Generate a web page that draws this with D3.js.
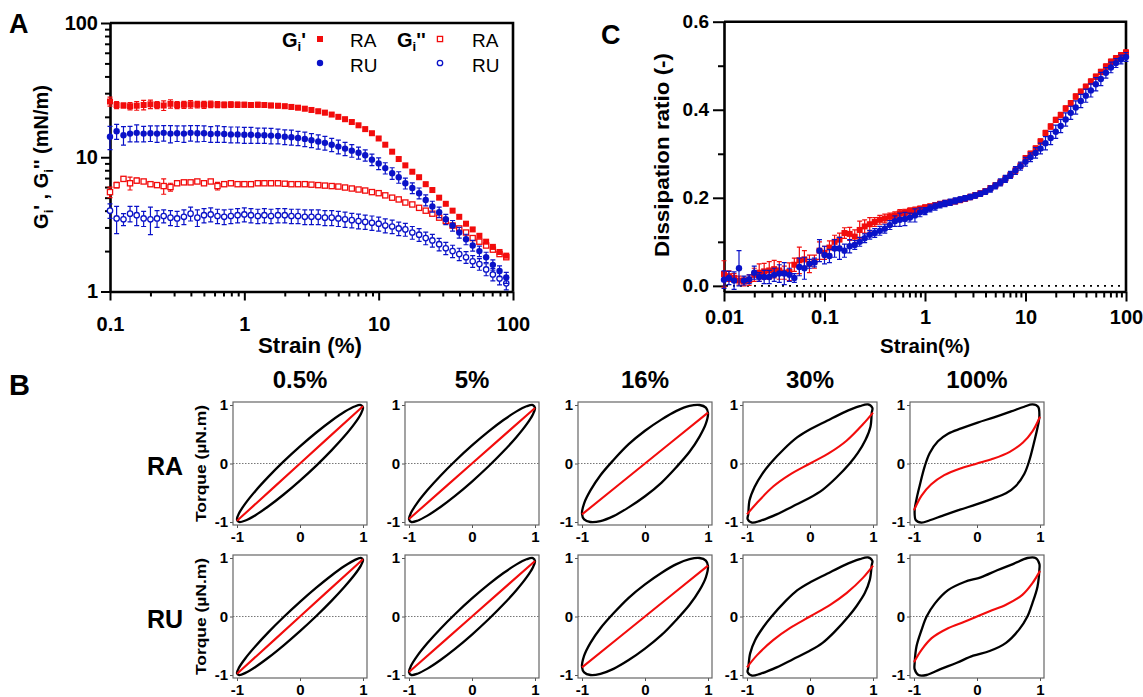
<!DOCTYPE html>
<html>
<head>
<meta charset="utf-8">
<script src="https://cdn.jsdelivr.net/npm/d3@7"></script>
<style>
  body { margin: 0; background: #fff; }
  text { font-family: Arial, "Liberation Sans", Helvetica, sans-serif; font-weight: bold; fill: #000; }
</style>
</head>
<body>
<svg width="1143" height="697"></svg>
<script>
// ---- panel A : amplitude sweep, Gi' and Gi'' ----
var strainA = [0.1,0.112,0.126,0.141,0.158,0.178,0.2,0.224,0.251,0.282,0.316,0.355,0.398,0.447,0.501,0.562,0.631,0.708,0.794,0.891,
  1,1.12,1.26,1.41,1.58,1.78,2,2.24,2.51,2.82,3.16,3.55,3.98,4.47,5.01,5.62,6.31,7.08,7.94,8.91,
  10,11.2,12.6,14.1,15.8,17.8,20,22.4,25.1,28.2,31.6,35.5,39.8,44.7,50.1,56.2,63.1,70.8,79.4,89.1];

var gpRA = [26,24.5,24.3,24,24.2,24.5,24.8,24.5,24.3,25, 24.5,24.6,24.8,24.7,24.6,24.8,24.7,24.6,24.7,24.6,
  24.6,24.5,24.6,24.5,24.3,24.2,24,23.7,23.4,23, 22.5,22,21.5,20.8,20,19.2,18.3,17.3,16.2,15.1,
  13.8,12.4,11,9.7,8.7,7.8,7.1,6.3,5.7,5.0, 4.5,4.0,3.6,3.2,2.9,2.6,2.35,2.15,1.97,1.85];
var gpRAerr = [2,1.5,1,1.5,1.8,2,1.8,1.5,2,1.8, 1.5,1.5,1.6,1.4,1.5,1.4,1.3,1.2,1.2,1.1,
  1,1,1,0.9,0.9,0.9,0.8,0.8,0.8,0.8, 0.7,0.7,0.7,0.6,0.6,0.6,0.5,0.5,0.5,0.4,
  0.4,0.35,0.3,0.3,0.25,0.2,0.2,0.2,0.15,0.15, 0.12,0.1,0.1,0.1,0.08,0.08,0.07,0.07,0.06,0.06];

var gpRU = [14.2,15.6,14.6,15,15.2,15,15.1,15,15.2,15, 15.1,15,15.2,15.1,15.1,14.9,15,14.9,14.8,14.8,
  14.7,14.7,14.6,14.6,14.5,14.4,14.2,14.1,13.9,13.7, 13.4,13.1,12.8,12.4,12,11.6,11.2,10.8,10.35,9.6,
  9.0,8.3,7.6,7.1,6.4,5.9,5.4,4.8,4.3,3.9, 3.45,3.1,2.75,2.45,2.2,2.0,1.8,1.58,1.42,1.27];
var gpRUerr = [2.8,2,2.3,2,2.2,2,2,2.1,2,2.2, 2,2.1,2,2.1,2,2,2.1,2,2,2,
  2,2,1.9,1.9,1.9,1.8,1.8,1.8,1.7,1.7, 1.6,1.6,1.5,1.4,1.4,1.3,1.2,1.1,1.0,0.95,
  0.9,0.8,0.75,0.7,0.6,0.55,0.5,0.45,0.4,0.35, 0.3,0.28,0.25,0.22,0.2,0.18,0.16,0.14,0.13,0.12];

var gppRA = [5.5,6.2,6.9,6.4,6.7,6.6,6.3,6.2,6.1,6.0, 6.4,6.5,6.5,6.6,6.4,6.6,6.1,6.3,6.4,6.3,
  6.3,6.3,6.4,6.4,6.4,6.4,6.35,6.3,6.3,6.3, 6.25,6.2,6.15,6.1,6.05,5.95,5.85,5.75,5.65,5.5,
  5.4,5.2,5.0,4.85,4.6,4.45,4.2,4.0,3.8,3.55, 3.35,3.1,2.95,2.75,2.5,2.35,2.2,2.05,1.9,1.8];
var gppRAerr = [0.5,0.3,0.2,0.7,0.3,0.2,0.2,0.2,0.8,0.4, 0.2,0.2,0.2,0.2,0.2,0.2,0.4,0.2,0.2,0.15,
  0.15,0.15,0.15,0.15,0.15,0.15,0.15,0.15,0.15,0.15, 0.15,0.15,0.15,0.15,0.15,0.14,0.14,0.14,0.13,0.13,
  0.13,0.12,0.12,0.12,0.11,0.11,0.1,0.1,0.1,0.09, 0.09,0.08,0.08,0.08,0.07,0.07,0.07,0.06,0.06,0.06];

var gppRU = [4.0,3.5,3.45,3.8,3.7,3.5,3.45,3.5,3.65,3.55, 3.5,3.6,3.8,3.55,3.7,3.75,3.65,3.6,3.65,3.7,
  3.75,3.7,3.65,3.7,3.65,3.7,3.7,3.65,3.65,3.6, 3.6,3.6,3.55,3.55,3.5,3.45,3.4,3.35,3.3,3.25,
  3.2,3.1,3.05,2.95,2.9,2.75,2.65,2.5,2.4,2.25, 2.1,2.0,1.9,1.8,1.68,1.6,1.46,1.34,1.25,1.15];
var gppRUerr = [0.5,0.8,0.35,0.5,0.6,0.45,0.8,0.5,0.4,0.45, 0.45,0.45,0.45,0.5,0.45,0.45,0.45,0.45,0.45,0.45,
  0.45,0.45,0.45,0.45,0.45,0.45,0.45,0.45,0.45,0.45, 0.45,0.45,0.45,0.45,0.45,0.45,0.42,0.42,0.4,0.4,
  0.38,0.37,0.35,0.34,0.32,0.3,0.29,0.27,0.26,0.24, 0.22,0.21,0.2,0.18,0.17,0.16,0.15,0.14,0.13,0.12];

var ticksAx = [0.1, 1, 10, 100];
var ticksAy = [1, 10, 100];

// ---- panel C : dissipation ratio ----
var strainC = [0.01,0.0112,0.0126,0.0141,0.0158,0.0178,0.02,0.0224,0.0251,0.0282,0.0316,0.0355,0.0398,0.0447,0.0501,0.0562,0.0631,0.0708,0.0794,0.0891,
  0.1,0.112,0.126,0.141,0.158,0.178,0.2,0.224,0.251,0.282,0.316,0.355,0.398,0.447,0.501,0.562,0.631,0.708,0.794,0.891,
  1,1.12,1.26,1.41,1.58,1.78,2,2.24,2.51,2.82,3.16,3.55,3.98,4.47,5.01,5.62,6.31,7.08,7.94,8.91,
  10,11.2,12.6,14.1,15.8,17.8,20,22.4,25.1,28.2,31.6,35.5,39.8,44.7,50.1,56.2,63.1,70.8,79.4,89.1,100];

var dissRA = [0.027,0.022,0.018,0.012,0.01,0.013,0.025,0.03,0.033,0.035,0.038,0.035,0.03,0.032,0.048,0.058,0.06,0.05,0.055,0.08,
  0.075,0.087,0.1,0.105,0.12,0.118,0.112,0.127,0.135,0.14,0.145,0.15,0.153,0.157,0.16,0.165,0.167,0.17,0.172,0.175,
  0.178,0.18,0.183,0.186,0.188,0.19,0.192,0.195,0.198,0.202,0.206,0.21,0.215,0.222,0.228,0.235,0.244,0.252,0.262,0.273,
  0.29,0.3,0.312,0.328,0.347,0.362,0.377,0.388,0.403,0.415,0.43,0.441,0.452,0.464,0.475,0.486,0.498,0.509,0.517,0.524,0.53];
var dissRAerr = [0.03,0.012,0.01,0.01,0.01,0.012,0.015,0.02,0.018,0.02,0.02,0.02,0.015,0.02,0.015,0.03,0.02,0.02,0.015,0.02,
  0.015,0.015,0.015,0.015,0.012,0.015,0.015,0.02,0.015,0.015,0.01,0.01,0.01,0.008,0.008,0.008,0.007,0.007,0.007,0.006,
  0.006,0.006,0.006,0.006,0.006,0.006,0.006,0.006,0.006,0.006,0.006,0.006,0.006,0.006,0.006,0.006,0.006,0.006,0.006,0.006,
  0.006,0.006,0.006,0.006,0.006,0.006,0.006,0.006,0.006,0.006,0.006,0.006,0.006,0.006,0.006,0.006,0.006,0.006,0.006,0.006,0.006];

var dissRU = [0.014,0.018,0.012,0.04,0.012,0.015,0.03,0.02,0.02,0.02,0.025,0.028,0.028,0.025,0.018,0.043,0.04,0.05,0.053,0.08,
  0.07,0.068,0.085,0.085,0.08,0.09,0.093,0.1,0.108,0.116,0.12,0.125,0.13,0.138,0.147,0.15,0.152,0.155,0.16,0.167,
  0.17,0.176,0.18,0.184,0.187,0.19,0.193,0.196,0.199,0.202,0.205,0.209,0.214,0.22,0.227,0.235,0.243,0.252,0.262,0.272,
  0.282,0.292,0.302,0.312,0.324,0.336,0.35,0.363,0.378,0.393,0.405,0.42,0.432,0.444,0.458,0.47,0.484,0.496,0.506,0.514,0.52];
var dissRUerr = [0.02,0.015,0.02,0.04,0.01,0.01,0.015,0.01,0.015,0.015,0.015,0.02,0.025,0.015,0.01,0.02,0.025,0.01,0.01,0.025,
  0.02,0.015,0.02,0.025,0.015,0.015,0.01,0.01,0.01,0.01,0.01,0.01,0.01,0.01,0.012,0.015,0.015,0.01,0.015,0.01,
  0.008,0.008,0.008,0.007,0.007,0.007,0.007,0.006,0.006,0.006,0.006,0.006,0.006,0.007,0.007,0.008,0.008,0.008,0.009,0.009,
  0.01,0.01,0.012,0.012,0.015,0.015,0.015,0.015,0.015,0.015,0.015,0.015,0.015,0.015,0.015,0.015,0.012,0.012,0.01,0.01,0.01];

var ticksCx = [0.01, 0.1, 1, 10, 100];
var ticksCy = [0, 0.2, 0.4, 0.6];
var minorCy = [0.1, 0.3, 0.5];

// ---- panel B : Lissajous loops (normalised strain, torque) ----
var amplitudes = ['0.5%', '5%', '16%', '30%', '100%'];
var samples = ['RA', 'RU'];
var ticksB = [-1, 0, 1];

// upper branch of each loop, from bottom-left tip to top-right tip;
// the loop is point-symmetric so the lower branch is the mirrored copy
var loopRA = [
  [[-1,-0.956],[-0.966,-0.848],[-0.866,-0.682],[-0.707,-0.469],[-0.5,-0.225],[-0.259,0.035],[0,0.292],[0.259,0.53],[0.5,0.731],[0.707,0.883],[0.866,0.974],[0.966,0.999]],
  [[-1,-0.951],[-0.966,-0.839],[-0.866,-0.669],[-0.707,-0.454],[-0.5,-0.208],[-0.259,0.052],[0,0.309],[0.259,0.545],[0.5,0.743],[0.707,0.891],[0.866,0.978],[0.966,0.999]],
  [[-1,-0.86],[-0.966,-0.68],[-0.866,-0.46],[-0.707,-0.2],[-0.5,0.06],[-0.259,0.33],[0,0.56],[0.259,0.75],[0.5,0.9],[0.707,0.985],[0.866,1.0],[0.966,0.955]],
  [[-0.98,-0.87],[-0.96,-0.63],[-0.88,-0.4],[-0.76,-0.18],[-0.63,0],[-0.42,0.24],[-0.2,0.45],[0.01,0.59],[0.27,0.73],[0.53,0.87],[0.79,0.98],[0.92,1.01],[0.99,0.95]],
  [[-0.99,-0.81],[-0.96,-0.61],[-0.91,-0.38],[-0.83,-0.05],[-0.75,0.18],[-0.62,0.38],[-0.46,0.51],[-0.25,0.6],[0.01,0.7],[0.27,0.79],[0.54,0.89],[0.75,0.97],[0.88,1.01],[0.97,0.97]]
];
var loopRU = [
  [[-1,-0.968],[-0.966,-0.87],[-0.866,-0.713],[-0.707,-0.508],[-0.5,-0.267],[-0.259,-0.009],[0,0.25],[0.259,0.492],[0.5,0.701],[0.707,0.862],[0.866,0.964],[0.966,1.0]],
  [[-1,-0.951],[-0.966,-0.839],[-0.866,-0.669],[-0.707,-0.454],[-0.5,-0.208],[-0.259,0.052],[0,0.309],[0.259,0.545],[0.5,0.743],[0.707,0.891],[0.866,0.978],[0.966,0.999]],
  [[-1,-0.86],[-0.966,-0.67],[-0.866,-0.45],[-0.707,-0.2],[-0.5,0.055],[-0.259,0.32],[0,0.55],[0.259,0.745],[0.5,0.895],[0.707,0.98],[0.866,1.0],[0.966,0.955]],
  [[-0.98,-0.88],[-0.95,-0.63],[-0.87,-0.4],[-0.74,-0.18],[-0.61,0],[-0.4,0.25],[-0.2,0.45],[0.01,0.59],[0.27,0.73],[0.53,0.87],[0.79,0.98],[0.92,1.01],[0.99,0.95]],
  [[-0.99,-0.8],[-0.96,-0.51],[-0.88,-0.23],[-0.8,0],[-0.67,0.22],[-0.46,0.45],[-0.2,0.59],[0.06,0.67],[0.32,0.79],[0.58,0.9],[0.8,1.0],[0.93,1.0],[0.99,0.9]]
];
// elastic stress (red)
var elasticRA = [
  [[-1,-0.98],[0,0],[1,0.98]],
  [[-1,-0.95],[0,0],[1,0.95]],
  [[-1,-0.87],[0,0],[1,0.87]],
  [[-1,-0.87],[-0.84,-0.67],[-0.58,-0.39],[-0.32,-0.19],[0,0],[0.32,0.19],[0.58,0.39],[0.84,0.67],[1,0.87]],
  [[-1,-0.8],[-0.88,-0.55],[-0.73,-0.36],[-0.52,-0.2],[-0.25,-0.08],[0,0],[0.25,0.08],[0.52,0.2],[0.73,0.36],[0.88,0.55],[1,0.8]]
];
var elasticRU = [
  [[-1,-0.98],[0,0],[1,0.98]],
  [[-1,-0.95],[0,0],[1,0.95]],
  [[-1,-0.87],[0,0],[1,0.87]],
  [[-1,-0.87],[-0.84,-0.66],[-0.58,-0.4],[-0.32,-0.2],[0,0],[0.32,0.2],[0.58,0.4],[0.84,0.66],[1,0.87]],
  [[-1,-0.78],[-0.88,-0.57],[-0.72,-0.37],[-0.46,-0.2],[-0.2,-0.09],[0,0],[0.2,0.09],[0.46,0.2],[0.72,0.37],[0.88,0.57],[1,0.78]]
];

var RED = '#f20c0c', BLUE = '#0a12c8';
var svg = d3.select('svg');

function styleAxis(g, w, fs) {
  g.attr('font-size', fs).attr('font-family', null);
  g.select('.domain').attr('stroke', '#000').attr('stroke-width', w);
  g.selectAll('.tick line').attr('stroke', '#000').attr('stroke-width', 2);
}

function minorAxis(axis, g) {
  g.call(axis.tickFormat(''));
  g.select('.domain').remove();
  g.selectAll('.tick line').attr('stroke', '#000').attr('stroke-width', 2);
}

function drawSeries(g, x, y, xs, vs, es, color, shape, open, cap) {
  var pts = xs.map(function(s, i) { return { s: s, v: vs[i], e: es[i] }; });
  g.append('g').attr('stroke', color).attr('stroke-width', 1.2).attr('fill', 'none')
    .selectAll('path').data(pts).enter().append('path')
    .attr('d', function(d) {
      var px = x(d.s), lo = y(d.v - d.e), hi = y(d.v + d.e);
      return 'M' + (px - cap) + ',' + hi + 'H' + (px + cap) + 'M' + px + ',' + hi + 'V' + lo +
             'M' + (px - cap) + ',' + lo + 'H' + (px + cap);
    });
  var mg = g.append('g');
  if (shape === 'square') {
    var s = open ? 5.2 : 6;
    mg.selectAll('rect').data(pts).enter().append('rect')
      .attr('x', function(d) { return x(d.s) - s / 2; })
      .attr('y', function(d) { return y(d.v) - s / 2; })
      .attr('width', s).attr('height', s)
      .attr('fill', open ? '#fff' : color)
      .attr('stroke', open ? color : 'none').attr('stroke-width', 1.3);
  } else {
    mg.selectAll('circle').data(pts).enter().append('circle')
      .attr('cx', function(d) { return x(d.s); })
      .attr('cy', function(d) { return y(d.v); })
      .attr('r', open ? 2.7 : 3.2)
      .attr('fill', open ? '#fff' : color)
      .attr('stroke', open ? color : 'none').attr('stroke-width', 1.3);
  }
}

// ================= Panel A =================
var xA = d3.scaleLog().domain([0.1, 100]).range([110, 513]);
var yA = d3.scaleLog().domain([1, 100]).range([291.5, 23]);
var gA = svg.append('g');

minorAxis(d3.axisLeft(yA).tickValues(yA.ticks().filter(function(d) { return ticksAy.indexOf(d) < 0; })).tickSize(5),
  gA.append('g').attr('transform', 'translate(110,0)'));
minorAxis(d3.axisBottom(xA).tickValues(xA.ticks().filter(function(d) { return ticksAx.indexOf(d) < 0; })).tickSize(5),
  gA.append('g').attr('transform', 'translate(0,291.5)'));

var axAy = gA.append('g').attr('transform', 'translate(110,0)')
  .call(d3.axisLeft(yA).tickValues(ticksAy).tickSize(9).tickSizeOuter(0).tickPadding(3).tickFormat(d3.format('~g')));
styleAxis(axAy, 2.6, 20);
var axAx = gA.append('g').attr('transform', 'translate(0,291.5)')
  .call(d3.axisBottom(xA).tickValues(ticksAx).tickSize(9).tickSizeOuter(0).tickPadding(16).tickFormat(d3.format('~g')));
styleAxis(axAx, 2.6, 20);
gA.append('path').attr('d', 'M110,23H513V291.5').attr('fill', 'none').attr('stroke', '#000').attr('stroke-width', 2.6);

drawSeries(gA, xA, yA, strainA, gppRU, gppRUerr, BLUE, 'circle', true, 2.5);
drawSeries(gA, xA, yA, strainA, gppRA, gppRAerr, RED, 'square', true, 2.5);
drawSeries(gA, xA, yA, strainA, gpRU, gpRUerr, BLUE, 'circle', false, 2.5);
drawSeries(gA, xA, yA, strainA, gpRA, gpRAerr, RED, 'square', false, 2.5);

// legend
var lg = gA.append('g');
var t1 = lg.append('text').attr('x', 282).attr('y', 47).attr('font-size', 20);
t1.append('tspan').text('G');
t1.append('tspan').attr('dy', 4).attr('font-size', 13).text('i');
t1.append('tspan').attr('dy', -4).text('\'');
var t2 = lg.append('text').attr('x', 397).attr('y', 47).attr('font-size', 20);
t2.append('tspan').text('G');
t2.append('tspan').attr('dy', 4).attr('font-size', 13).text('i');
t2.append('tspan').attr('dy', -4).text('\'\'');
lg.append('rect').attr('x', 317).attr('y', 36).attr('width', 6).attr('height', 6).attr('fill', RED);
lg.append('rect').attr('x', 437.4).attr('y', 36.4).attr('width', 5.2).attr('height', 5.2).attr('fill', '#fff').attr('stroke', RED).attr('stroke-width', 1.3);
lg.append('circle').attr('cx', 320).attr('cy', 63).attr('r', 3.2).attr('fill', BLUE);
lg.append('circle').attr('cx', 440).attr('cy', 63).attr('r', 2.7).attr('fill', '#fff').attr('stroke', BLUE).attr('stroke-width', 1.3);
[[350, 47, 'RA'], [350, 72, 'RU'], [472, 47, 'RA'], [472, 72, 'RU']].forEach(function(d) {
  lg.append('text').attr('x', d[0]).attr('y', d[1]).attr('font-size', 19)
    .style('font-weight', 'normal').text(d[2]);
});

// labels
gA.append('text').attr('x', 9).attr('y', 33).attr('font-size', 27).text('A');
gA.append('text').attr('x', 310).attr('y', 353).attr('text-anchor', 'middle').attr('font-size', 22)
  .attr('textLength', 104).attr('lengthAdjust', 'spacingAndGlyphs').text('Strain (%)');
var yl = gA.append('text').attr('transform', 'translate(48,157) rotate(-90)').attr('text-anchor', 'middle').attr('font-size', 20);
yl.append('tspan').text('G');
yl.append('tspan').attr('dy', 5).attr('font-size', 13).text('i');
yl.append('tspan').attr('dy', -5).text('\' , G');
yl.append('tspan').attr('dy', 5).attr('font-size', 13).text('i');
yl.append('tspan').attr('dy', -5).text('\'\' (mN/m)');

// ================= Panel C =================
var xC = d3.scaleLog().domain([0.01, 100]).range([724, 1126]);
var yC = d3.scaleLinear().domain([-0.0128, 0.6]).range([291.5, 21.7]);
var gC = svg.append('g');

minorAxis(d3.axisLeft(yC).tickValues(minorCy).tickSize(6), gC.append('g').attr('transform', 'translate(724,0)'));
minorAxis(d3.axisBottom(xC).tickValues(xC.ticks().filter(function(d) { return ticksCx.indexOf(d) < 0; })).tickSize(6),
  gC.append('g').attr('transform', 'translate(0,291.5)'));
var axCy = gC.append('g').attr('transform', 'translate(724,0)')
  .call(d3.axisLeft(yC).tickValues(ticksCy).tickSize(11).tickSizeOuter(0).tickPadding(4).tickFormat(d3.format('.1f')));
styleAxis(axCy, 2.6, 19);
var axCx = gC.append('g').attr('transform', 'translate(0,291.5)')
  .call(d3.axisBottom(xC).tickValues(ticksCx).tickSize(10).tickSizeOuter(0).tickPadding(8).tickFormat(d3.format('~g')));
styleAxis(axCx, 2.6, 20);
gC.append('path').attr('d', 'M724,21.7H1126V291.5').attr('fill', 'none').attr('stroke', '#000').attr('stroke-width', 2.6);
gC.append('line').attr('x1', 726).attr('x2', 1126).attr('y1', yC(0)).attr('y2', yC(0))
  .attr('stroke', '#000').attr('stroke-width', 1.8).attr('stroke-dasharray', '2,5');

drawSeries(gC, xC, yC, strainC, dissRA, dissRAerr, RED, 'square', false, 2.5);
drawSeries(gC, xC, yC, strainC, dissRU, dissRUerr, BLUE, 'circle', false, 2.5);

gC.append('text').attr('x', 601).attr('y', 44).attr('font-size', 27).text('C');
gC.append('text').attr('x', 925).attr('y', 353).attr('text-anchor', 'middle').attr('font-size', 21)
  .attr('textLength', 90).attr('lengthAdjust', 'spacingAndGlyphs').text('Strain(%)');
gC.append('text').attr('transform', 'translate(669,155) rotate(-90)').attr('text-anchor', 'middle')
  .attr('font-size', 21).attr('textLength', 204).attr('lengthAdjust', 'spacingAndGlyphs').text('Dissipation ratio (-)');

// ================= Panel B =================
var colLeft = [233, 405, 578, 743, 910], rowTop = [402, 555], boxW = 134, boxH = 123;
var gB = svg.append('g');
gB.append('text').attr('x', 9).attr('y', 395).attr('font-size', 29).text('B');

amplitudes.forEach(function(a, c) {
  gB.append('text').attr('x', colLeft[c] + boxW / 2).attr('y', 388).attr('text-anchor', 'middle')
    .attr('font-size', 24).text(a);
});

samples.forEach(function(s, r) {
  var loops = r === 0 ? loopRA : loopRU;
  var elastic = r === 0 ? elasticRA : elasticRU;
  gB.append('text').attr('x', 165).attr('y', rowTop[r] + 73).attr('text-anchor', 'middle')
    .attr('font-size', 25).text(s);
  gB.append('text').attr('transform', 'translate(206,' + (rowTop[r] + boxH / 2) + ') rotate(-90)')
    .attr('text-anchor', 'middle').attr('font-size', 15).attr('textLength', 117)
    .attr('lengthAdjust', 'spacingAndGlyphs').text('Torque (\u00b5N.m)');

  amplitudes.forEach(function(a, c) {
    var x0 = colLeft[c], y0 = rowTop[r];
    var xb = d3.scaleLinear().domain([-1, 1]).range([x0 + 4, x0 + boxW - 4]);
    var yb = d3.scaleLinear().domain([-1, 1]).range([y0 + boxH - 3, y0 + 3]);
    var g = gB.append('g');

    g.append('line').attr('x1', x0).attr('x2', x0 + boxW).attr('y1', yb(0)).attr('y2', yb(0))
      .attr('stroke', '#777').attr('stroke-width', 1).attr('stroke-dasharray', '1.5,1.5');

    var ax = g.append('g').attr('transform', 'translate(' + x0 + ',0)')
      .call(d3.axisLeft(yb).tickValues(ticksB).tickSize(3).tickPadding(2).tickFormat(function(d) { return String(d); }));
    ax.attr('font-size', 15).attr('font-family', null);
    ax.select('.domain').remove();
    ax.selectAll('.tick line').attr('stroke', '#555');
    var bx = g.append('g').attr('transform', 'translate(0,' + (y0 + boxH) + ')')
      .call(d3.axisBottom(xb).tickValues(ticksB).tickSize(3).tickPadding(3).tickFormat(function(d) { return String(d); }));
    bx.attr('font-size', 15).attr('font-family', null);
    bx.select('.domain').remove();
    bx.selectAll('.tick line').attr('stroke', '#555');

    g.append('rect').attr('x', x0).attr('y', y0).attr('width', boxW).attr('height', boxH)
      .attr('fill', 'none').attr('stroke', '#666').attr('stroke-width', 1.2);

    var up = loops[c];
    var pts = up.concat(up.map(function(p) { return [-p[0], -p[1]]; }));
    g.append('path').datum(pts)
      .attr('d', d3.line().x(function(d) { return xb(d[0]); }).y(function(d) { return yb(d[1]); })
        .curve(d3.curveCatmullRomClosed.alpha(0.5)))
      .attr('fill', 'none').attr('stroke', '#000').attr('stroke-width', 2.3);
    g.append('path').datum(elastic[c])
      .attr('d', d3.line().x(function(d) { return xb(d[0]); }).y(function(d) { return yb(d[1]); })
        .curve(d3.curveCatmullRom.alpha(0.5)))
      .attr('fill', 'none').attr('stroke', RED).attr('stroke-width', 2.1);
  });
});
</script>
</body>
</html>
